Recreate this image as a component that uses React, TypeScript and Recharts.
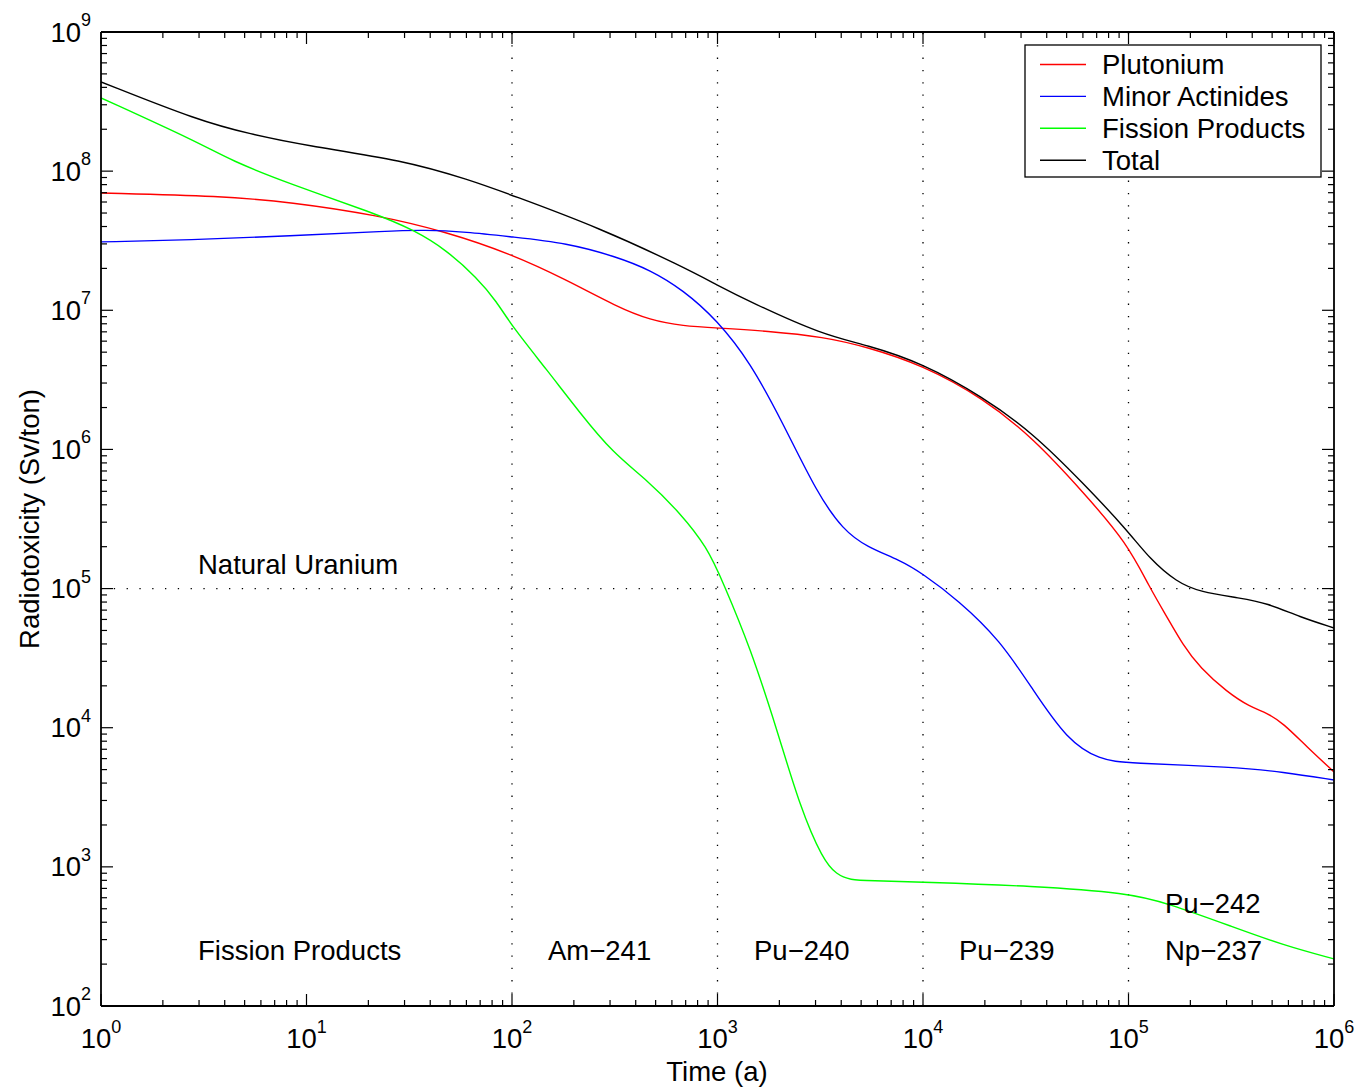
import React from 'react';
import { LineChart, Line, XAxis, YAxis, ReferenceLine } from 'recharts';

// ---- data (time in years, radiotoxicity in Sv/ton) ----
const puTime = [1, 3.9, 8.3, 22, 48, 99, 185, 324, 470, 680, 995, 1740, 3300, 5330, 9890, 19600, 34300, 60100, 98400, 127000, 154000, 184000, 223000, 301000, 390000, 472000, 565000, 740000, 1e6];
const puValue = [6.97e7, 6.62e7, 6.0e7, 4.84e7, 3.66e7, 2.54e7, 1.65e7, 1.06e7, 8.51e6, 7.71e6, 7.46e6, 7.1e6, 6.43e6, 5.45e6, 4.05e6, 2.34e6, 1.21e6, 4.94e5, 2.13e5, 1.01e5, 6.25e4, 3.93e4, 2.69e4, 1.81e4, 1.41e4, 1.28e4, 1.08e4, 7.26e3, 4.81e3];

const maTime = [1, 2.7, 8.3, 25.5, 37, 60, 99, 185, 324, 470, 680, 995, 1440, 2080, 3050, 4080, 5330, 7730, 9890, 14800, 23700, 34300, 50200, 72600, 99500, 323000, 565000, 1e6];
const maValue = [3.1e7, 3.2e7, 3.42e7, 3.72e7, 3.78e7, 3.66e7, 3.37e7, 3.05e7, 2.42e7, 1.95e7, 1.4e7, 8.51e6, 4.25e6, 1.55e6, 4.86e5, 2.64e5, 1.99e5, 1.6e5, 1.29e5, 8.28e4, 4.27e4, 1.87e4, 8.17e3, 5.86e3, 5.57e3, 5.22e3, 4.81e3, 4.21e3];

const fpTime = [1, 3.03, 4.25, 8.3, 21.3, 33.3, 48, 67.6, 84.5, 99, 148, 214, 310, 454, 658, 889, 1064, 1440, 1950, 2520, 3260, 3800, 4420, 5500, 9890, 34300, 99500, 154000, 323000, 565000, 1e6];
const fpValue = [3.36e8, 1.59e8, 1.2e8, 8.09e7, 5.0e7, 3.78e7, 2.71e7, 1.71e7, 1.15e7, 7.83e6, 3.72e6, 1.83e6, 9.42e5, 6.03e5, 3.49e5, 1.99e5, 1.11e5, 3.8e4, 9.64e3, 2.69e3, 1.12e3, 880, 805, 795, 778, 728, 649, 550, 370, 274, 218];

const totTime = [1, 3, 5.3, 9.8, 29.5, 62.5, 99, 268, 680, 995, 1440, 3260, 5330, 9890, 19600, 34300, 60100, 98400, 127000, 172000, 223000, 349000, 472000, 682000, 1e6];
const totValue = [4.38e8, 2.3e8, 1.85e8, 1.53e8, 1.2e8, 8.63e7, 6.75e7, 3.9e7, 2.05e7, 1.52e7, 1.15e7, 6.64e6, 5.64e6, 4.18e6, 2.38e6, 1.31e6, 5.74e5, 2.64e5, 1.63e5, 1.11e5, 9.44e4, 8.55e4, 7.87e4, 6.25e4, 5.21e4];

const seriesNames = ['Plutonium', 'Minor Actinides', 'Fission Products', 'Total'];
const seriesColors = ['#ff0000', '#0000ff', '#00ff00', '#000000'];

const xMajorTicks = [1, 10, 100, 1000, 10000, 100000, 1000000];
const yMajorTicks = [1e2, 1e3, 1e4, 1e5, 1e6, 1e7, 1e8, 1e9];
const minorMultipliers = [2, 3, 4, 5, 6, 7, 8, 9];
const xGridLines = [100, 1000, 10000, 100000];
const yGridLines = [100000];

const regionLabels = [
  { text: 'Fission Products', x: 198, y: 960 },
  { text: 'Am\u2212241', x: 548, y: 960 },
  { text: 'Pu\u2212240', x: 754, y: 960 },
  { text: 'Pu\u2212239', x: 959, y: 960 },
  { text: 'Np\u2212237', x: 1165, y: 960 },
  { text: 'Pu\u2212242', x: 1165, y: 913 },
  { text: 'Natural Uranium', x: 198, y: 574 },
];

// ---- helpers ----
const withMinors = (majors: number[]) => {
  const out: number[] = [];
  majors.forEach((m, i) => {
    out.push(m);
    if (i < majors.length - 1) minorMultipliers.forEach((k) => out.push(m * k));
  });
  return out;
};
const xTicks = withMinors(xMajorTicks);
const yTicks = withMinors(yMajorTicks);
const expOf = (v: number) => Math.round(Math.log10(v));
const isMajor = (v: number) => Math.abs(Math.log10(v) - expOf(v)) < 1e-6;

const zip = (ts: number[], vs: number[]) => ts.map((t, i) => ({ t, v: vs[i] }));
const seriesData = [zip(puTime, puValue), zip(maTime, maValue), zip(fpTime, fpValue), zip(totTime, totValue)];

const FONT = '"Liberation Sans", Arial, Helvetica, sans-serif';
const FS = 27.5;
const MAJOR = 12;
const MINOR = 6;
const TICKW = 1.2;

const BottomTick = (p: any) => {
  const { x, y, payload } = p;
  const major = isMajor(payload.value);
  return (
    <g>
      <line x1={x} x2={x} y1={y} y2={y - (major ? MAJOR : MINOR)} stroke="#000" strokeWidth={TICKW} />
      {major && (
        <text x={x} y={y + 42} textAnchor="middle" fontFamily={FONT} fontSize={FS} fill="#000">
          <tspan>10</tspan>
          <tspan dy={-15} fontSize={18}>{expOf(payload.value)}</tspan>
        </text>
      )}
    </g>
  );
};
const TopTick = (p: any) => {
  const { x, y, payload } = p;
  const major = isMajor(payload.value);
  return <line x1={x} x2={x} y1={y} y2={y + (major ? MAJOR : MINOR)} stroke="#000" strokeWidth={TICKW} />;
};
const LeftTick = (p: any) => {
  const { x, y, payload } = p;
  const major = isMajor(payload.value);
  return (
    <g>
      <line x1={x} x2={x + (major ? MAJOR : MINOR)} y1={y} y2={y} stroke="#000" strokeWidth={TICKW} />
      {major && (
        <text x={x - 10} y={y + 9.5} textAnchor="end" fontFamily={FONT} fontSize={FS} fill="#000">
          <tspan>10</tspan>
          <tspan dy={-15.5} fontSize={18}>{expOf(payload.value)}</tspan>
        </text>
      )}
    </g>
  );
};
const RightTick = (p: any) => {
  const { x, y, payload } = p;
  const major = isMajor(payload.value);
  return <line x1={x} x2={x - (major ? MAJOR : MINOR)} y1={y} y2={y} stroke="#000" strokeWidth={TICKW} />;
};

const axisLine = { stroke: '#000', strokeWidth: 1.8 };

export default function App() {
  return (
    <div style={{ position: 'absolute', left: 0, top: 0, width: 1359, height: 1090, background: '#fff' }}>
      <LineChart width={1359} height={1090} margin={{ top: 2, right: 5, bottom: 24, left: 10 }}>
        <XAxis
          xAxisId="b"
          type="number"
          dataKey="t"
          scale="log"
          domain={[1, 1e6]}
          allowDataOverflow
          ticks={xTicks}
          interval={0}
          height={60}
          tickLine={false}
          tickSize={0}
          tickMargin={0}
          axisLine={axisLine}
          tick={(p: any) => <BottomTick {...p} />}
        />
        <XAxis
          xAxisId="t"
          orientation="top"
          type="number"
          dataKey="t"
          scale="log"
          domain={[1, 1e6]}
          allowDataOverflow
          ticks={xTicks}
          interval={0}
          height={30}
          tickLine={false}
          tickSize={0}
          tickMargin={0}
          axisLine={axisLine}
          tick={(p: any) => <TopTick {...p} />}
        />
        <YAxis
          yAxisId="l"
          type="number"
          scale="log"
          domain={[1e2, 1e9]}
          allowDataOverflow
          ticks={yTicks}
          interval={0}
          width={91}
          tickLine={false}
          tickSize={0}
          tickMargin={0}
          axisLine={axisLine}
          tick={(p: any) => <LeftTick {...p} />}
        />
        <YAxis
          yAxisId="r"
          orientation="right"
          type="number"
          scale="log"
          domain={[1e2, 1e9]}
          allowDataOverflow
          ticks={yTicks}
          interval={0}
          width={20}
          tickLine={false}
          tickSize={0}
          tickMargin={0}
          axisLine={axisLine}
          tick={(p: any) => <RightTick {...p} />}
        />
        {xGridLines.map((g) => (
          <ReferenceLine key={'x' + g} x={g} xAxisId="b" yAxisId="l" stroke="#000" strokeWidth={1.3} strokeDasharray="1.3 11" />
        ))}
        {yGridLines.map((g) => (
          <ReferenceLine key={'y' + g} y={g} xAxisId="b" yAxisId="l" stroke="#000" strokeWidth={1.3} strokeDasharray="1.3 11.5" />
        ))}
        {seriesData.map((d, i) => (
          <Line
            key={seriesNames[i]}
            name={seriesNames[i]}
            data={d}
            xAxisId="b"
            yAxisId="l"
            dataKey="v"
            type="basis"
            stroke={seriesColors[i]}
            strokeWidth={1.4}
            dot={false}
            activeDot={false}
            isAnimationActive={false}
          />
        ))}
      </LineChart>
      <svg width={1359} height={1090} style={{ position: 'absolute', left: 0, top: 0, pointerEvents: 'none' }}>
        {regionLabels.map((l) => (
          <text key={l.text} x={l.x} y={l.y} fontFamily={FONT} fontSize={FS} fill="#000">{l.text}</text>
        ))}
        <text x={717} y={1081} textAnchor="middle" fontFamily={FONT} fontSize={FS} fill="#000">Time (a)</text>
        <text x={39} y={519} transform="rotate(-90 39 519)" textAnchor="middle" fontFamily={FONT} fontSize={FS} fill="#000">Radiotoxicity (Sv/ton)</text>
        <rect x={1025} y={45} width={296} height={132} fill="#fff" stroke="#000" strokeWidth={1.3} />
        {seriesNames.map((n, i) => (
          <g key={n}>
            <line x1={1040} x2={1086} y1={64.5 + i * 31.9} y2={64.5 + i * 31.9} stroke={seriesColors[i]} strokeWidth={1.4} />
            <text x={1102} y={74 + i * 31.9} fontFamily={FONT} fontSize={FS} fill="#000">{n}</text>
          </g>
        ))}
      </svg>
    </div>
  );
}
